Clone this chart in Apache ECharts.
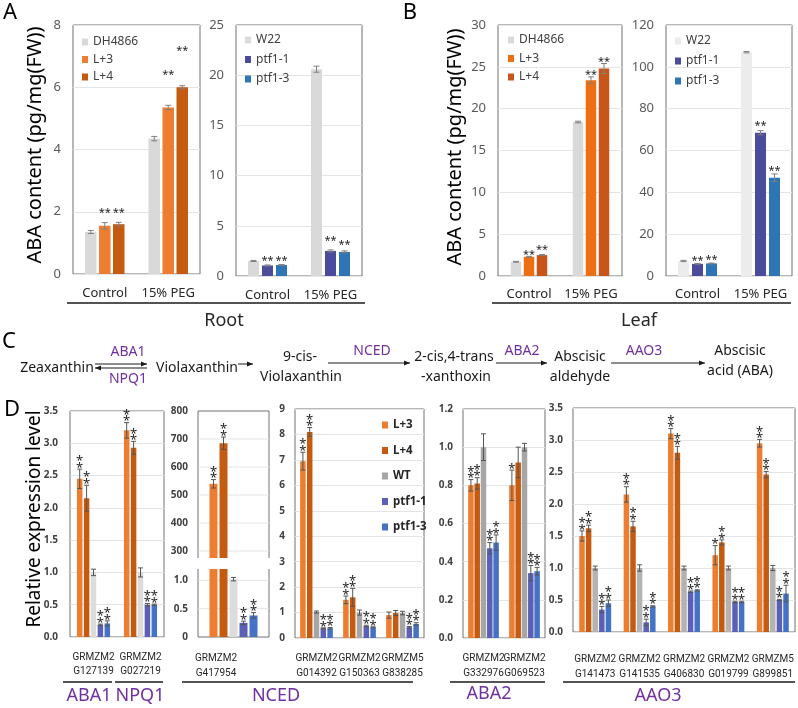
<!DOCTYPE html>
<html><head><meta charset="utf-8">
<script src="https://cdn.jsdelivr.net/npm/echarts@6/dist/echarts.min.js"></script>
<style>html,body{margin:0;padding:0;background:#fff}#c{width:798px;height:708px}</style>
</head><body><div id="c"></div>
<script>
// ================= DATA =================
// Panel A / B
const condCats = ['Control', '15% PEG'];
const oeNames = ['DH4866', 'L+3', 'L+4'];
const mutNames = ['W22', 'ptf1-1', 'ptf1-3'];

const rootOeVals = [[1.35, 4.35], [1.55, 5.35], [1.60, 6.00]];
const rootOeErr = [[0.05, 0.07], [0.10, 0.07], [0.06, 0.05]];
const rootOeStarY = [[null, null], [2.06, 6.5], [2.06, 7.27]];
const rootOeTicks = [0, 8, 2];

const rootMutVals = [[1.5, 20.6], [1.05, 2.5], [1.1, 2.4]];
const rootMutErr = [[0.05, 0.3], [0.05, 0.1], [0.05, 0.1]];
const rootMutStarY = [[null, null], [1.8, 3.8], [1.8, 3.4]];
const rootMutTicks = [0, 25, 5];

const leafOeVals = [[1.7, 18.4], [2.3, 23.4], [2.5, 24.8]];
const leafOeErr = [[0.05, 0.1], [0.05, 0.4], [0.06, 0.6]];
const leafOeStarY = [[null, null], [2.9, 24.4], [3.45, 26.0]];
const leafOeTicks = [0, 30, 5];

const leafMutVals = [[7.2, 107], [5.8, 68.5], [6.0, 47]];
const leafMutErr = [[0.3, 0.3], [0.2, 1.0], [0.2, 1.8]];
const leafMutStarY = [[null, null], [8.6, 73.2], [9.1, 51.7]];
const leafMutTicks = [0, 120, 20];

// Panel D
const dNames = ['L+3', 'L+4', 'WT', 'ptf1-1', 'ptf1-3'];

const aba1Cats = ['GRMZM2G127139', 'GRMZM2G027219'];
const aba1Vals = [[2.45, 3.2], [2.15, 2.93], [1.0, 1.0], [0.19, 0.5], [0.21, 0.5]];
const aba1Err = [[0.15, 0.12], [0.2, 0.1], [0.05, 0.07], [0.01, 0.02], [0.04, 0.01]];
const aba1Stars = [['**', '**'], ['**', '**'], ['', ''], ['**', '**'], ['**', '**']];

const nced1Cats = ['GRMZM2G417954'];
const nced1Vals = [[540], [685], [1.02], [0.25], [0.38]];
const nced1Err = [[15], [22], [0.03], [0.03], [0.05]];
const nced1Stars = [['**'], ['**'], [''], ['**'], ['**']];

const nced2Cats = ['GRMZM2G014392', 'GRMZM2G150363', 'GRMZM5G838285'];
const nced2Vals = [[6.95, 1.5, 0.9], [8.1, 1.6, 0.98], [1.02, 1.0, 0.98], [0.38, 0.47, 0.42], [0.38, 0.42, 0.55]];
const nced2Err = [[0.35, 0.15, 0.12], [0.17, 0.35, 0.1], [0.04, 0.1, 0.07], [0.02, 0.03, 0.03], [0.03, 0.02, 0.05]];
const nced2Stars = [['**', '**', ''], ['**', '**', ''], ['', '', ''], ['**', '**', '**'], ['**', '**', '**']];

const aba2Cats = ['GRMZM2G332976', 'GRMZM2G069523'];
const aba2Vals = [[0.80, 0.80], [0.81, 0.92], [1.0, 1.0], [0.47, 0.34], [0.50, 0.35]];
const aba2Err = [[0.03, 0.08], [0.03, 0.08], [0.07, 0.02], [0.03, 0.04], [0.04, 0.02]];
const aba2Stars = [['**', '*'], ['**', ''], ['', ''], ['**', '**'], ['**', '**']];

const aao3Cats = ['GRMZM2G141473', 'GRMZM2G141535', 'GRMZM2G406830', 'GRMZM2G019799', 'GRMZM5G899851'];
const aao3Vals = [[1.5, 2.15, 3.1, 1.2, 2.95], [1.62, 1.65, 2.8, 1.4, 2.46], [1.0, 1.0, 1.0, 1.0, 1.0], [0.35, 0.15, 0.63, 0.47, 0.5], [0.45, 0.4, 0.65, 0.47, 0.6]];
const aao3Err = [[0.08, 0.12, 0.08, 0.15, 0.06], [0.05, 0.08, 0.1, 0.04, 0.05], [0.03, 0.05, 0.03, 0.03, 0.04], [0.05, 0.05, 0.01, 0.01, 0.01], [0.05, 0.01, 0.01, 0.01, 0.13]];
const aao3Stars = [['**', '**', '**', '*', '**'], ['**', '**', '**', '**', '**'], ['', '', '', '', ''], ['**', '**', '**', '**', '**'], ['**', '**', '**', '**', '**']];

// ================= BUILD =================
const FONT = '"Noto Sans", "DejaVu Sans", sans-serif';
const NARROW = 'Roboto, "Noto Sans", sans-serif';
const grid = [], xAxis = [], yAxis = [], series = [], legend = [], graphic = [];

function addPanel(p) {
  const gi = grid.length;
  const n = p.names.length;
  grid.push({left: p.left, top: p.top, width: p.width, height: p.height,
    show: p.frame !== false, borderColor: '#707070', borderWidth: 1, backgroundColor: 'rgba(0,0,0,0)'});
  xAxis.push({type: 'category', gridIndex: gi, data: p.cats,
    axisLine: {show: false}, axisTick: {show: false},
    axisLabel: Object.assign({show: p.showX !== false, interval: 0, margin: p.xMargin, fontSize: p.xFont,
      color: '#262626', fontFamily: p.xFamily || FONT}, p.xLabel || {})});
  yAxis.push({type: 'value', gridIndex: gi, min: p.ticks[0], max: p.ticks[1], interval: p.ticks[2],
    axisLine: {show: false}, axisTick: {show: false},
    splitLine: {show: p.split !== false, lineStyle: {color: '#e4e4e4', width: 1}},
    axisLabel: {margin: p.yMargin, fontSize: p.yFont, color: p.yColor, fontFamily: FONT,
      fontWeight: p.yWeight || 'normal', formatter: p.yFmt}});
  p.names.forEach(function (nm, si) {
    series.push({type: 'bar', name: nm, xAxisIndex: gi, yAxisIndex: gi, barWidth: p.barW,
      barGap: ((p.step - p.barW) / p.barW * 100) + '%', animation: false, silent: true, z: 2,
      itemStyle: {color: p.colors[si]},
      data: p.vals[si].map(function (v) { return p.barFilter ? p.barFilter(v) : v; })});
  });
  const items = [], meta = [];
  p.vals.forEach(function (arr, si) {
    arr.forEach(function (v, ci) {
      if (p.ovFilter && !p.ovFilter(v)) return;
      items.push([ci, v, p.errs[si][ci], si]);
      meta.push({star: p.stars ? p.stars[si][ci] : '', starY: p.starY ? p.starY[si][ci] : null});
    });
  });
  series.push({type: 'custom', xAxisIndex: gi, yAxisIndex: gi, z: 4, silent: true, animation: false, clip: false,
    data: items,
    renderItem: function (params, api) {
      const ci = api.value(0), v = api.value(1), e = api.value(2), si = api.value(3);
      const m = meta[params.dataIndex];
      const off = (si - (n - 1) / 2) * p.step;
      const x = api.coord([ci, v])[0] + off;
      const yT = api.coord([ci, v + e])[1];
      const yB = api.coord([ci, Math.max(v - e, 0)])[1];
      const st = {stroke: p.errColor, lineWidth: 1};
      const ch = [];
      if (e > 0) {
        ch.push({type: 'line', shape: {x1: x, y1: yT, x2: x, y2: yB}, style: st});
        ch.push({type: 'line', shape: {x1: x - p.cap, y1: yT, x2: x + p.cap, y2: yT}, style: st});
        ch.push({type: 'line', shape: {x1: x - p.cap, y1: yB, x2: x + p.cap, y2: yB}, style: st});
      }
      if (m.starY != null) {
        const sy = api.coord([ci, m.starY])[1];
        ch.push({type: 'text', x: x, y: sy + 3, style: {text: '**', fill: '#262626',
          font: '11px ' + FONT, align: 'center', verticalAlign: 'middle', textAlign: 'center', textVerticalAlign: 'middle'}});
      }
      if (m.star) {
        for (let j = 0; j < m.star.length; j++) {
          ch.push({type: 'text', x: x, y: yT - 4 - j * 6.5 + 3, style: {text: '*', fill: '#262626',
            font: '13px ' + FONT, align: 'center', verticalAlign: 'middle', textAlign: 'center', textVerticalAlign: 'middle'}});
        }
      }
      return {type: 'group', children: ch};
    }});
  return gi;
}

function addGridlines(gi, vals) {
  series.push({type: 'custom', xAxisIndex: gi, yAxisIndex: gi, z: 1, silent: true, animation: false,
    data: vals.map(function (v) { return [0, v]; }),
    renderItem: function (params, api) {
      const cs = params.coordSys;
      const y = api.coord([0, api.value(1)])[1];
      return {type: 'line', shape: {x1: cs.x, y1: y, x2: cs.x + cs.width, y2: y},
        style: {stroke: '#e4e4e4', lineWidth: 1}};
    }});
}

function addLegend(names, colors, left, top, gap, ts) {
  legend.push({orient: 'vertical', left: left, top: top, padding: 0, itemGap: gap, itemWidth: 6, itemHeight: 7,
    icon: 'rect', selectedMode: false,
    textStyle: Object.assign({fontFamily: FONT, fontSize: 12, color: '#404040', lineHeight: 14}, ts || {}),
    data: names.map(function (nm, i) { return {name: nm, itemStyle: {color: colors[i]}}; })});
}

const abCommon = {xMargin: 13, xFont: 13, yMargin: 12, yFont: 13, yColor: '#595959', errColor: '#808080', cap: 3};
const oeColorsA = ['#d9d9d9', '#ed7d31', '#c55a11'];
const mutColorsA = ['#d9d9d9', '#4b4b9b', '#2e75b6'];
const oeColorsB = ['#d9d9d9', '#ee6f11', '#c8561a'];
const mutColorsB = ['#ececec', '#4b4b9b', '#2e75b6'];

addPanel(Object.assign({}, abCommon, {left: 73, top: 25, width: 127, height: 249, cats: condCats, names: oeNames,
  vals: rootOeVals, errs: rootOeErr, starY: rootOeStarY, ticks: rootOeTicks, barW: 11.5, step: 14, colors: oeColorsA}));
addPanel(Object.assign({}, abCommon, {left: 236, top: 25, width: 126, height: 251, cats: condCats, names: mutNames,
  vals: rootMutVals, errs: rootMutErr, starY: rootMutStarY, ticks: rootMutTicks, barW: 11, step: 14, colors: mutColorsA}));
addPanel(Object.assign({}, abCommon, {left: 498, top: 25, width: 124, height: 251, cats: condCats, names: oeNames,
  vals: leafOeVals, errs: leafOeErr, starY: leafOeStarY, ticks: leafOeTicks, barW: 10.5, step: 13, colors: oeColorsB, xMargin: 12}));
addPanel(Object.assign({}, abCommon, {left: 666, top: 25, width: 126, height: 251, cats: condCats, names: mutNames,
  vals: leafMutVals, errs: leafMutErr, starY: leafMutStarY, ticks: leafMutTicks, barW: 11, step: 14, colors: mutColorsB, xMargin: 12}));

addLegend(oeNames, oeColorsA, 82, 35, 3.5);
addLegend(mutNames, mutColorsA, 245, 33, 5.5);
addLegend(oeNames, oeColorsB, 508, 33, 4.5);
addLegend(mutNames, mutColorsB, 675, 34, 6);

const geneFmt = function (v) { return v.slice(0, 6) + '\n' + v.slice(6); };
const dec1 = function (v) { return v.toFixed(1); };
const dCommon = {xFont: 10, xFamily: NARROW, yMargin: 10, yFont: 10, yColor: '#404040', yWeight: 'bold', errColor: '#555555', cap: 2.5, names: dNames};
const dColorsLight = ['#ed7d31', '#c55a11', '#dcdcdc', '#5b5fb5', '#4472c4'];
const dColorsMid = ['#ed7d31', '#c55a11', '#a6a6a6', '#5b5fb5', '#4472c4'];
const dColorsAao = ['#ed7d31', '#c55a11', '#b3b3b3', '#5b5fb5', '#4472c4'];

addPanel(Object.assign({}, dCommon, {left: 70, top: 411, width: 94, height: 226, cats: aba1Cats, vals: aba1Vals,
  errs: aba1Err, stars: aba1Stars, ticks: [0, 3.5, 0.5], yFmt: dec1, barW: 5.5, step: 6.9, colors: dColorsLight,
  yMargin: 12, xMargin: 14, xLabel: {formatter: geneFmt, lineHeight: 13.5}}));

// broken-axis NCED panel: upper part
const gUp = addPanel(Object.assign({}, dCommon, {left: 198, top: 411, width: 71, height: 147, cats: nced1Cats, vals: nced1Vals,
  errs: nced1Err, stars: nced1Stars, ticks: [275, 800, 25], barW: 8, step: 10, colors: dColorsLight, frame: false,
  split: false, showX: false, xMargin: 10,
  yFmt: function (v) { return v % 100 === 0 ? String(v) : ''; },
  barFilter: function (v) { return v >= 275 ? v : '-'; }, ovFilter: function (v) { return v >= 275; }}));
addGridlines(gUp, [300, 400, 500, 600, 700]);
const gLo = addPanel(Object.assign({}, dCommon, {left: 198, top: 569, width: 71, height: 68, cats: nced1Cats, vals: nced1Vals,
  errs: nced1Err, stars: nced1Stars, ticks: [0, 1.2, 0.5], barW: 8, step: 10, colors: dColorsLight, frame: false,
  split: false, xMargin: 13.5, xLabel: {formatter: geneFmt, lineHeight: 15, padding: [0, 35, 0, 0]},
  yFmt: function (v) { return v > 1.1 ? '' : (v === 0 ? '0' : v.toFixed(1)); },
  ovFilter: function (v) { return v < 275; }}));
addGridlines(gLo, [0.5, 1.0]);

addPanel(Object.assign({}, dCommon, {left: 295, top: 409, width: 129, height: 229, cats: nced2Cats, vals: nced2Vals,
  errs: nced2Err, stars: nced2Stars, ticks: [0, 9, 1], barW: 5.5, step: 6.8, colors: dColorsMid,
  xMargin: 12.5, xLabel: {formatter: geneFmt, lineHeight: 15}}));
addPanel(Object.assign({}, dCommon, {left: 463, top: 409, width: 82, height: 229, cats: aba2Cats, vals: aba2Vals,
  errs: aba2Err, stars: aba2Stars, ticks: [0, 1.2, 0.2], yFmt: dec1, barW: 5.5, step: 6.3, colors: dColorsMid,
  xMargin: 12.5, xLabel: {formatter: geneFmt, lineHeight: 15}}));
addPanel(Object.assign({}, dCommon, {left: 573, top: 408, width: 222, height: 224, cats: aao3Cats, vals: aao3Vals,
  errs: aao3Err, stars: aao3Stars, ticks: [0, 3.5, 0.5], yFmt: dec1, barW: 5.5, step: 6.6, colors: dColorsAao,
  xMargin: 19.5, xLabel: {formatter: geneFmt, lineHeight: 15}}));

addLegend(dNames, dColorsMid, 382, 418, 11.5, {fontWeight: 'bold', fontSize: 11.5, color: '#262626'});

// ================= DECORATION / TEXT =================
function txt(t, x, y, size, color, extra) {
  graphic.push(Object.assign({type: 'text', x: x, y: y, silent: true,
    style: {text: t, fill: color || '#1a1a1a', font: size + 'px ' + FONT, align: 'center', verticalAlign: 'middle',
      textAlign: 'center', textVerticalAlign: 'middle'}}, extra || {}));
}
function ln(x1, y1, x2, y2, color, w) {
  graphic.push({type: 'line', silent: true, shape: {x1: x1, y1: y1, x2: x2, y2: y2},
    style: {stroke: color || '#1a1a1a', lineWidth: w || 1}});
}
function arrow(x1, y, x2, dir) {
  ln(x1, y, x2, y, '#1a1a1a', 1);
  const tip = dir > 0 ? x2 : x1;
  graphic.push({type: 'polygon', silent: true,
    shape: {points: [[tip, y], [tip - dir * 6, y - 2.5], [tip - dir * 6, y + 2.5]]}, style: {fill: '#1a1a1a'}});
}

// panel letters
txt('A', 10, 13, 22, '#000');
txt('B', 410, 13, 22, '#000');
txt('C', 9, 342, 22, '#000');
txt('D', 12, 410, 22, '#000');

// axis titles
txt('ABA content (pg/mg(FW))', 35, 145, 20, '#000', {rotation: Math.PI / 2});
txt('ABA content (pg/mg(FW))', 455, 147, 20, '#000', {rotation: Math.PI / 2});
txt('Relative expression level', 35, 519, 19, '#000', {rotation: Math.PI / 2});

// tissue labels
ln(67, 303, 365, 303, '#1a1a1a', 1.5);
txt('Root', 224, 321, 18, '#262626');
ln(492, 303, 791, 303, '#1a1a1a', 1.5);
txt('Leaf', 639, 321, 18, '#262626');

// pathway (C)
const purple = '#7030a0';
txt('Zeaxanthin', 57, 368, 14);
txt('ABA1', 128, 352, 14, purple);
txt('NPQ1', 128, 379, 14, purple);
arrow(95, 364, 147, 1);
arrow(95, 368, 147, -1);
txt('Violaxanthin', 197, 368, 14);
arrow(238, 364, 253, 1);
txt('9-cis-', 300, 357, 14);
txt('Violaxanthin', 301, 377, 14);
txt('NCED', 372, 351, 14, purple);
arrow(328, 363, 410, 1);
txt('2-cis,4-trans', 454, 357, 14);
txt('-xanthoxin', 456, 377, 14);
txt('ABA2', 522, 351, 14, purple);
arrow(496, 363, 547, 1);
txt('Abscisic', 580, 357, 14);
txt('aldehyde', 580, 377, 14);
txt('AAO3', 644, 351, 14, purple);
arrow(611, 363, 705, 1);
txt('Abscisic', 740, 351, 14);
txt('acid (ABA)', 740, 371, 14);

// broken axis frame
const fc = '#707070';
ln(198, 411, 269, 411, fc); ln(198, 411, 198, 558, fc); ln(269, 411, 269, 558, fc);
ln(198, 569, 198, 637, fc); ln(269, 569, 269, 637, fc); ln(198, 637, 269, 637, fc);

// gene family underlines
[[63, 112], [115, 163], [182, 413], [450, 545], [563, 795]].forEach(function (s) { ln(s[0], 682, s[1], 682, '#1a1a1a', 1.5); });
txt('ABA1', 89, 696, 18, purple);
txt('NPQ1', 140, 696, 18, purple);
txt('NCED', 276, 696, 18, purple);
txt('ABA2', 489, 694, 18, purple);
txt('AAO3', 658, 696, 18, purple);

const chart = echarts.init(document.getElementById('c'), null, {renderer: 'canvas'});
chart.setOption({animation: false, backgroundColor: '#fff', grid: grid, xAxis: xAxis, yAxis: yAxis,
  legend: legend, series: series, graphic: {elements: graphic}});
</script>
</body></html>
